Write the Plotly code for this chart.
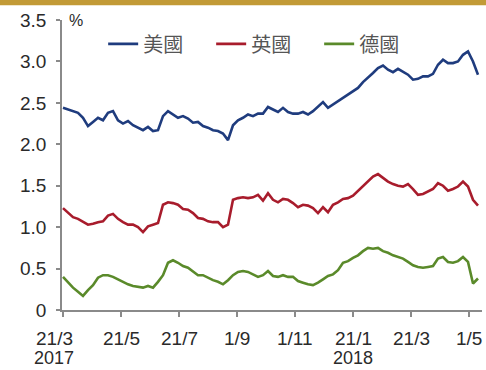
import plotly.graph_objects as go

series_names = ["美國", "英國", "德國"]

us = [2.44, 2.42, 2.40, 2.38, 2.32, 2.22, 2.27, 2.32, 2.29, 2.38, 2.40, 2.29, 2.25, 2.28, 2.23, 2.20,
      2.17, 2.21, 2.16, 2.17, 2.34, 2.40, 2.36, 2.32, 2.34, 2.31, 2.26, 2.27, 2.22, 2.20, 2.17, 2.16,
      2.13, 2.05, 2.23, 2.29, 2.32, 2.36, 2.34, 2.37, 2.37, 2.45, 2.42, 2.39, 2.44, 2.39, 2.37, 2.37,
      2.39, 2.36, 2.40, 2.46, 2.51, 2.44, 2.48, 2.52, 2.56, 2.60, 2.64, 2.68, 2.75, 2.80, 2.86, 2.92,
      2.95, 2.90, 2.87, 2.91, 2.87, 2.84, 2.78, 2.79, 2.82, 2.82, 2.85, 2.96, 3.02, 2.98, 2.98, 3.00,
      3.08, 3.12, 3.00, 2.84]

uk = [1.23, 1.17, 1.12, 1.10, 1.06, 1.03, 1.04, 1.06, 1.07, 1.14, 1.16, 1.10, 1.06, 1.03, 1.03, 1.00,
      0.94, 1.01, 1.03, 1.05, 1.27, 1.30, 1.29, 1.27, 1.22, 1.21, 1.17, 1.11, 1.10, 1.07, 1.06, 1.06,
      1.00, 1.03, 1.33, 1.35, 1.36, 1.35, 1.36, 1.39, 1.32, 1.41, 1.33, 1.30, 1.34, 1.33, 1.29, 1.24,
      1.27, 1.26, 1.23, 1.17, 1.24, 1.18, 1.27, 1.30, 1.34, 1.35, 1.38, 1.44, 1.50, 1.56, 1.61, 1.64,
      1.59, 1.55, 1.52, 1.50, 1.49, 1.52, 1.46, 1.39, 1.40, 1.43, 1.46, 1.53, 1.50, 1.44, 1.46, 1.49,
      1.55, 1.49, 1.33, 1.26]

de = [0.40, 0.33, 0.27, 0.22, 0.17, 0.24, 0.30, 0.39, 0.42, 0.42, 0.40, 0.37, 0.34, 0.31, 0.29, 0.28,
      0.27, 0.29, 0.27, 0.34, 0.42, 0.57, 0.60, 0.57, 0.53, 0.51, 0.46, 0.42, 0.42, 0.39, 0.36, 0.34,
      0.31, 0.36, 0.42, 0.46, 0.47, 0.46, 0.43, 0.40, 0.42, 0.47, 0.41, 0.40, 0.42, 0.40, 0.40, 0.35,
      0.33, 0.31, 0.30, 0.33, 0.37, 0.41, 0.43, 0.48, 0.57, 0.59, 0.63, 0.66, 0.71, 0.75, 0.74, 0.75,
      0.71, 0.69, 0.66, 0.64, 0.62, 0.58, 0.54, 0.52, 0.51, 0.52, 0.53, 0.62, 0.64, 0.58, 0.57, 0.59,
      0.64, 0.58, 0.32, 0.38]

x_tick_labels = ["21/3", "21/5", "21/7", "1/9", "1/11", "21/1", "21/3", "1/5"]
year_labels = {0: "2017", 5: "2018"}
y_tick_values = [0, 0.5, 1.0, 1.5, 2.0, 2.5, 3.0, 3.5]
y_tick_labels = ["0", "0.5", "1.0", "1.5", "2.0", "2.5", "3.0", "3.5"]

colors = ["#1f3c7e", "#a81c2c", "#5a8a2a"]
font = "Liberation Sans, Arial, sans-serif"
cjk = "Noto Sans CJK TC, Noto Sans CJK SC, sans-serif"

tick_step = 11.6
tick_pos = [i * tick_step for i in range(len(x_tick_labels))]

fig = go.Figure()
for name, vals, c in zip(series_names, [us, uk, de], colors):
    fig.add_trace(go.Scatter(x=list(range(len(vals))), y=vals, mode="lines", name=name,
                             line=dict(color=c, width=2.6)))

fig.update_layout(
    width=486, height=370,
    margin=dict(l=62, r=4, t=20, b=60),
    paper_bgcolor="white", plot_bgcolor="white",
    showlegend=True,
    legend=dict(orientation="h", x=0.098, xanchor="left", y=0.985, yanchor="top",
                entrywidth=63, entrywidthmode="pixels", itemwidth=30,
                font=dict(family=cjk, size=20, color="#555555"),
                bgcolor="rgba(0,0,0,0)", tracegroupgap=0),
)
fig.update_xaxes(range=[-0.2, 83.8], showgrid=False, zeroline=False,
                 showline=True, linecolor="#8a8a8a", linewidth=1.5,
                 tickmode="array", tickvals=tick_pos, ticktext=[""] * len(tick_pos),
                 ticks="outside", ticklen=5, tickcolor="#8a8a8a", tickwidth=1.5)
fig.update_yaxes(range=[0, 3.5], showgrid=False, zeroline=False,
                 showline=True, linecolor="#8a8a8a", linewidth=1.5,
                 tickmode="array", tickvals=y_tick_values, ticktext=y_tick_labels,
                 ticks="outside", ticklen=4, tickcolor="#8a8a8a", tickwidth=1.5,
                 ticklabelstandoff=6,
                 tickfont=dict(family=font, size=19, color="#2a2a2a"))

# x tick labels as annotations (first one sits slightly left of its tick)
for i, (pos, lab) in enumerate(zip(tick_pos, x_tick_labels)):
    fig.add_annotation(x=pos, xref="x", y=-0.055, yref="paper", yanchor="top",
                       text=lab, showarrow=False, xshift=-9 if i == 0 else 0,
                       font=dict(family=font, size=19, color="#2a2a2a"))
for i, yl in year_labels.items():
    fig.add_annotation(x=tick_pos[i], xref="x", y=-0.165, yref="paper", yanchor="middle",
                       text=yl, showarrow=False, xshift=-9 if i == 0 else 0,
                       font=dict(family=font, size=18, color="#2a2a2a"))

fig.add_annotation(x=0.012, xref="paper", y=1.0, yref="paper", xanchor="left", yanchor="middle",
                   text="%", showarrow=False, font=dict(family=font, size=16, color="#2a2a2a"))

# gold banner at top
fig.add_shape(type="rect", xref="paper", yref="paper", x0=-0.2, x1=1.02, y0=1.051, y1=1.08,
              fillcolor="#c29a36", line=dict(width=0))

fig.write_html("out.html")
